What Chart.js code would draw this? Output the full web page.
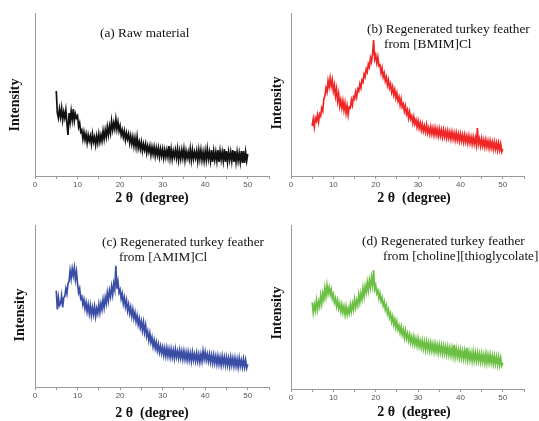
<!DOCTYPE html>
<html>
<head>
<meta charset="utf-8">
<script src="https://cdn.jsdelivr.net/npm/chart.js@4"></script>
<style>
  html, body { margin: 0; padding: 0; background: #fff; }
  #wrap { position: relative; width: 539px; height: 421px; }
  .panel { position: absolute; }
</style>
</head>
<body>
<div id="wrap">
  <div class="panel" style="left:0;top:0;width:270px;height:210px"><canvas id="pa"></canvas></div>
  <div class="panel" style="left:270px;top:0;width:269px;height:210px"><canvas id="pb"></canvas></div>
  <div class="panel" style="left:0;top:210px;width:270px;height:211px"><canvas id="pc"></canvas></div>
  <div class="panel" style="left:270px;top:210px;width:269px;height:211px"><canvas id="pd"></canvas></div>
</div>
<script>
// 2-theta sampling grid: 5 to 50 degrees every 0.25
const thetaStart = 5;
const thetaStep = 0.25;
const xTicks = [0, 10, 20, 30, 40, 50];

// intensities (arbitrary units)
const rawMaterial = [
  85, 63, 58, 67, 59, 68, 56, 64, 58, 66, 53, 41, 63, 54, 65, 56, 67, 55, 62, 58,
  60, 49, 53, 44, 46, 37, 44, 36, 42, 33, 41, 35, 40, 32, 42, 34, 39, 31, 40, 33,
  42, 34, 41, 35, 45, 37, 46, 39, 49, 41, 50, 43, 55, 46, 53, 47, 57, 47, 54, 45,
  50, 41, 46, 39, 45, 36, 43, 37, 42, 33, 40, 32, 39, 30, 38, 29, 39, 28, 34, 27,
  34, 25, 32, 26, 32, 23, 30, 24, 30, 21, 29, 22, 29, 20, 28, 21, 28, 19, 27, 20,
  27, 18, 26, 19, 26, 19, 30, 18, 27, 17, 25, 19, 26, 18, 27, 16, 25, 17, 26, 18,
  27, 16, 25, 18, 24, 17, 27, 16, 26, 17, 24, 18, 25, 15, 26, 17, 26, 16, 24, 15,
  25, 16, 27, 17, 24, 15, 26, 14, 25, 16, 24, 15, 26, 14, 25, 16, 24, 15, 27, 14,
  25, 14, 24, 16, 24, 15, 26, 14, 25, 14, 24, 15, 23, 14, 25, 13, 25, 13, 24, 15,
  22
];

const bmimCl = [
  50, 57, 49, 58, 55, 61, 54, 62, 60, 68, 65, 77, 80, 88, 84, 95, 89, 98, 90, 96,
  85, 91, 80, 87, 75, 82, 70, 76, 68, 75, 66, 73, 63, 70, 61, 69, 68, 76, 71, 79,
  77, 84, 79, 87, 85, 92, 88, 96, 94, 102, 99, 107, 104, 112, 109, 118, 114, 122, 136, 117,
  121, 113, 119, 110, 111, 103, 108, 99, 103, 95, 99, 91, 96, 88, 92, 84, 89, 81, 86, 78,
  83, 75, 79, 71, 77, 69, 72, 65, 70, 62, 66, 58, 64, 57, 60, 53, 59, 52, 56, 49,
  55, 48, 53, 46, 52, 45, 50, 44, 51, 43, 48, 42, 49, 42, 48, 41, 48, 41, 47, 40,
  47, 40, 46, 39, 46, 39, 45, 38, 45, 38, 44, 37, 44, 37, 43, 36, 43, 36, 42, 35,
  42, 35, 41, 34, 41, 34, 40, 33, 40, 33, 39, 32, 39, 32, 38, 31, 48, 32, 37, 30,
  37, 30, 36, 29, 36, 29, 35, 28, 35, 28, 34, 27, 34, 27, 33, 26, 33, 26, 32, 24,
  27
];

const amimCl = [
  97, 78, 90, 82, 84, 92, 80, 90, 91, 99, 94, 104, 106, 117, 109, 119, 112, 120, 108, 116,
  104, 95, 99, 89, 91, 83, 88, 79, 85, 76, 83, 74, 82, 72, 80, 73, 81, 71, 79, 74,
  83, 75, 84, 78, 88, 80, 90, 84, 95, 87, 97, 91, 101, 93, 104, 98, 122, 99, 106, 95,
  98, 89, 94, 84, 90, 81, 87, 77, 83, 74, 80, 71, 78, 69, 75, 66, 72, 63, 69, 60,
  66, 57, 65, 55, 62, 51, 56, 47, 54, 45, 50, 41, 47, 39, 45, 37, 43, 35, 41, 34,
  40, 32, 39, 31, 39, 31, 38, 30, 38, 30, 37, 29, 38, 30, 36, 29, 37, 29, 36, 28,
  36, 28, 35, 27, 35, 27, 34, 26, 35, 27, 33, 26, 34, 26, 33, 25, 33, 26, 36, 28,
  35, 27, 33, 26, 33, 25, 32, 24, 32, 24, 31, 23, 31, 23, 30, 22, 31, 23, 30, 22,
  30, 22, 29, 21, 30, 22, 29, 21, 29, 21, 28, 20, 29, 21, 27, 20, 28, 20, 27, 19,
  23
];

const cholineThioglycolate = [
  86, 76, 84, 78, 88, 79, 87, 82, 93, 85, 95, 89, 100, 92, 103, 95, 101, 94, 99, 90,
  94, 86, 90, 82, 88, 80, 85, 77, 84, 76, 82, 74, 82, 74, 80, 75, 84, 77, 85, 79,
  89, 81, 88, 83, 94, 86, 95, 89, 100, 92, 102, 96, 106, 98, 108, 101, 111, 103, 118, 99,
  103, 95, 98, 90, 95, 87, 91, 83, 87, 79, 83, 75, 79, 71, 75, 67, 72, 64, 69, 61,
  67, 59, 63, 56, 62, 54, 59, 51, 58, 50, 55, 48, 54, 46, 52, 45, 52, 44, 50, 43,
  50, 42, 48, 41, 48, 40, 47, 39, 47, 39, 46, 38, 46, 38, 45, 37, 45, 37, 44, 36,
  44, 36, 43, 35, 43, 35, 42, 34, 42, 34, 41, 33, 41, 33, 44, 32, 40, 32, 39, 31,
  39, 31, 38, 30, 38, 30, 41, 29, 37, 29, 36, 28, 37, 28, 36, 28, 36, 28, 35, 27,
  35, 27, 34, 26, 35, 26, 34, 26, 34, 26, 33, 25, 33, 25, 32, 24, 32, 24, 31, 23,
  26
];

function toPoints(values) {
  return values.map((v, i) => ({ x: thetaStart + i * thetaStep, y: v }));
}

// draws the caption inside the plot plus the axis titles
const panelText = {
  id: "panelText",
  afterDraw(chart, args, opts) {
    const ctx = chart.ctx;
    ctx.save();
    ctx.fillStyle = "#111";
    ctx.textBaseline = "middle";
    ctx.font = "13.3px 'Liberation Serif', 'Times New Roman', serif";
    ctx.textAlign = "left";
    opts.caption.forEach((c) => ctx.fillText(c.text, c.x, c.y));

    ctx.font = "bold 14px 'Liberation Serif', 'Times New Roman', serif";
    ctx.textAlign = "center";
    ctx.fillText("2 \u03b8  (degree)", opts.xTitle[0], opts.xTitle[1]);

    ctx.font = "bold 14px 'Liberation Serif', 'Times New Roman', serif";
    ctx.translate(opts.yTitle[0], opts.yTitle[1]);
    ctx.rotate(-Math.PI / 2);
    ctx.fillText("Intensity", 0, 0);
    ctx.restore();
  },
};

function makePanel(id, values, color, padding, xAxisHeight, text) {
  new Chart(document.getElementById(id).getContext("2d"), {
    type: "line",
    data: {
      datasets: [
        {
          data: toPoints(values),
          borderColor: color,
          borderWidth: 1.7,
          pointRadius: 0,
          tension: 0,
          fill: false,
        },
      ],
    },
    options: {
      responsive: true,
      maintainAspectRatio: false,
      animation: false,
      events: [],
      layout: { padding: padding },
      plugins: {
        legend: { display: false },
        tooltip: { enabled: false },
        panelText: text,
      },
      scales: {
        x: {
          type: "linear",
          min: 0,
          max: 55,
          afterFit: (s) => { s.height = xAxisHeight; },
          afterBuildTicks: (s) => {
            s.ticks = [0, 5, 10, 15, 20, 25, 30, 35, 40, 45, 50, 55].map((v) => ({ value: v }));
          },
          ticks: {
            autoSkip: false,
            maxRotation: 0,
            padding: 1,
            color: "#555",
            font: { family: "'Liberation Sans', Arial, sans-serif", size: 8 },
            callback: (v) => (xTicks.includes(v) ? String(v) : ""),
          },
          grid: {
            drawOnChartArea: false,
            drawTicks: true,
            tickLength: 3,
            color: "#999",
          },
          border: { display: true, color: "#999", width: 1 },
        },
        y: {
          min: 0,
          max: 163,
          afterFit: (s) => { s.width = 0; },
          ticks: { display: false },
          grid: { display: false },
          border: { display: true, color: "#999", width: 1 },
        },
      },
    },
    plugins: [panelText],
  });
}

makePanel("pa", rawMaterial, "#111111", { left: 35, right: 1, top: 13, bottom: 0 }, 34, {
  caption: [{ text: "(a) Raw material", x: 100, y: 34 }],
  xTitle: [152, 198],
  yTitle: [15, 105],
});

makePanel("pb", bmimCl, "#ee2626", { left: 21, right: 15, top: 13, bottom: 0 }, 34, {
  caption: [
    { text: "(b) Regenerated turkey feather", x: 97, y: 30 },
    { text: "from [BMIM]Cl", x: 114, y: 45 },
  ],
  xTitle: [144, 198],
  yTitle: [7, 103],
});

makePanel("pc", amimCl, "#3a4ea6", { left: 35, right: 1, top: 15, bottom: 0 }, 34, {
  caption: [
    { text: "(c) Regenerated turkey feather", x: 102, y: 33 },
    { text: "from [AMIM]Cl", x: 119, y: 48 },
  ],
  xTitle: [152, 203],
  yTitle: [20, 105],
});

makePanel("pd", cholineThioglycolate, "#6cbf45", { left: 21, right: 15, top: 15, bottom: 0 }, 32, {
  caption: [
    { text: "(d) Regenerated turkey feather", x: 92, y: 32 },
    { text: "from [choline][thioglycolate]", x: 113, y: 47 },
  ],
  xTitle: [144, 202],
  yTitle: [7, 103],
});
</script>
</body>
</html>
